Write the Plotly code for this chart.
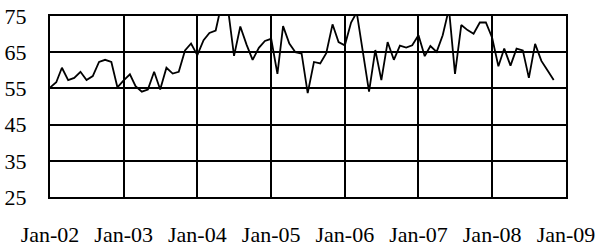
import plotly.graph_objects as go
import pandas as pd

dates = pd.date_range("2002-01-01", "2008-11-01", freq="MS")

values = [
    # 2002
    55.2, 56.7, 60.7, 57.3, 57.9, 59.6, 57.3, 58.4, 62.3, 62.9, 62.3, 55.3,
    # 2003
    57.2, 58.9, 55.6, 54.1, 54.7, 59.6, 54.7, 60.7, 59.1, 59.6, 65.5, 67.4,
    # 2004
    64.2, 68.3, 70.3, 71.0, 78.5, 77.0, 64.0, 72.1, 67.1, 62.9, 66.2, 68.1,
    # 2005
    68.7, 59.0, 72.2, 67.4, 65.0, 64.6, 53.7, 62.3, 61.9, 64.7, 72.7, 67.8,
    # 2006
    66.9, 73.2, 76.0, 65.3, 54.1, 65.6, 57.3, 67.8, 62.9, 66.8, 66.3, 66.9,
    # 2007
    69.7, 63.9, 66.7, 65.1, 69.7, 77.0, 59.0, 72.5, 71.1, 70.1, 73.2, 73.2,
    # 2008
    69.0, 61.1, 66.0, 61.3, 66.0, 65.5, 57.9, 67.3, 62.6, 60.0, 57.3,
]

y_ticks = [25, 35, 45, 55, 65, 75]

fig = go.Figure()
fig.add_trace(go.Scatter(
    x=dates, y=values, mode="lines",
    line=dict(color="black", width=1.8),
    showlegend=False, hoverinfo="skip",
))

font = dict(family="Liberation Serif", size=22, color="black")

fig.update_layout(
    width=597, height=246,
    margin=dict(l=50, r=31, t=16, b=49, autoexpand=False),
    paper_bgcolor="white", plot_bgcolor="white",
    font=font,
    xaxis=dict(
        type="date",
        range=["2002-01-01", "2009-01-01"],
        tick0="2002-01-01", dtick="M12", tickformat="%b-%y",
        showgrid=True, gridcolor="black", gridwidth=2,
        showline=True, linecolor="black", linewidth=2, mirror=True,
        ticks="outside", ticklen=17, tickcolor="rgba(0,0,0,0)",
        zeroline=False, tickfont=font, automargin=False,
    ),
    yaxis=dict(
        range=[25, 75], tickvals=y_ticks,
        showgrid=True, gridcolor="black", gridwidth=2,
        showline=True, linecolor="black", linewidth=2, mirror=True,
        ticks="outside", ticklen=17, tickcolor="rgba(0,0,0,0)",
        zeroline=False, tickfont=font, automargin=False,
    ),
)

fig.write_html(
    "out.html",
    config={"displayModeBar": False, "staticPlot": True},
    post_script="document.body.style.margin='0';document.body.style.overflow='hidden';",
)
